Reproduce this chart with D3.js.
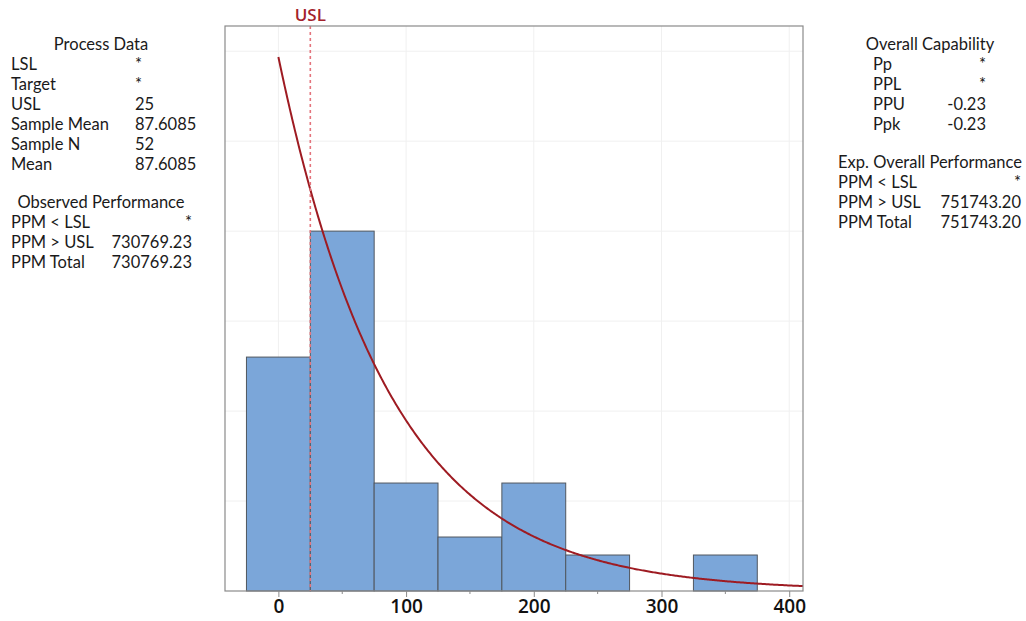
<!DOCTYPE html>
<html>
<head>
<style>
  body{
    margin: 0;
    background: white;
    font-family: 'Open Sans', sans-serif;
  }
</style>
</head>
<body>
<svg id='svgVis'></svg>
<script src="https://cdn.jsdelivr.net/npm/d3@7/dist/d3.min.js"></script>
<script>

// histogram bins (centres, width 50) and counts
var binCentres = [0, 50, 100, 150, 200, 250, 300, 350];
var binCounts = [13, 20, 6, 3, 6, 2, 0, 2];
var binWidth = 50;

var xTicks = [0, 100, 200, 300, 400];
var xMinorTicks = [50, 150, 250, 350];
var yGrid = [5, 10, 15, 20, 25, 30];

var usl = 25;
var sampleMean = 87.6085;
var sampleN = 52;

var processLabels = ["LSL", "Target", "USL", "Sample Mean", "Sample N", "Mean"];
var processValues = ["*", "*", "25", "87.6085", "52", "87.6085"];
var observedLabels = ["PPM < LSL", "PPM > USL", "PPM Total"];
var observedValues = ["*", "730769.23", "730769.23"];
var capLabels = ["Pp", "PPL", "PPU", "Ppk"];
var capValues = ["*", "*", "-0.23", "-0.23"];
var expLabels = ["PPM < LSL", "PPM > USL", "PPM Total"];
var expValues = ["*", "751743.20", "751743.20"];

var width = 1026, height = 621;

var svg = d3.select("#svgVis")
    .attr("width", width)
    .attr("height", height);

var plot = {left: 225, right: 803, top: 26, bottom: 591};

var x = d3.scaleLinear().domain([-41.8, 410.8]).range([plot.left, plot.right]);
var y = d3.scaleLinear().domain([0, 31.4]).range([plot.bottom, plot.top]);

// grid
svg.append("g").selectAll("line").data(yGrid).enter().append("line")
  .attr("x1", plot.left).attr("x2", plot.right)
  .attr("y1", function(d) { return y(d); }).attr("y2", function(d) { return y(d); })
  .style("stroke", "#f0f0f0").style("stroke-width", 1);

svg.append("g").selectAll("line").data(xTicks).enter().append("line")
  .attr("y1", plot.top).attr("y2", plot.bottom)
  .attr("x1", function(d) { return x(d); }).attr("x2", function(d) { return x(d); })
  .style("stroke", "#f0f0f0").style("stroke-width", 1);

// bars
svg.append("g").selectAll("rect")
  .data(binCentres.map(function(c, i) { return {c: c, n: binCounts[i]}; }).filter(function(d) { return d.n > 0; }))
  .enter().append("rect")
  .attr("x", function(d) { return x(d.c - binWidth / 2); })
  .attr("width", function(d) { return x(d.c + binWidth / 2) - x(d.c - binWidth / 2); })
  .attr("y", function(d) { return y(d.n); })
  .attr("height", function(d) { return y(0) - y(d.n); })
  .style("fill", "#7ba6d9")
  .style("stroke", "#50575f")
  .style("stroke-width", 1);

// fitted exponential curve
var curvePts = d3.range(0, 410.8, 1).concat([410.8]).map(function(v) {
  return [v, sampleN * binWidth / sampleMean * Math.exp(-v / sampleMean)];
});
svg.append("path")
  .datum(curvePts)
  .attr("d", d3.line().x(function(d) { return x(d[0]); }).y(function(d) { return y(d[1]); }))
  .style("fill", "none")
  .style("stroke", "#9e1b22")
  .style("stroke-width", 2);

// USL line
svg.append("line")
  .attr("x1", x(usl)).attr("x2", x(usl))
  .attr("y1", plot.top).attr("y2", plot.bottom)
  .style("stroke", "#e4737c")
  .style("stroke-width", 1.6)
  .style("stroke-dasharray", "3,3");

svg.append("text")
  .attr("x", x(usl)).attr("y", 21)
  .attr("text-anchor", "middle")
  .style("font-size", "17px")
  .style("font-weight", "600")
  .style("fill", "#a3222b")
  .text("USL");

// frame
svg.append("rect")
  .attr("x", plot.left).attr("y", plot.top)
  .attr("width", plot.right - plot.left).attr("height", plot.bottom - plot.top)
  .style("fill", "none").style("stroke", "#8a8a8a").style("stroke-width", 1.2);

// x axis
var xAxis = d3.axisBottom(x).tickValues(xTicks).tickSize(6).tickSizeOuter(0);
var gx = svg.append("g")
  .attr("transform", "translate(0," + plot.bottom + ")")
  .call(xAxis);
gx.select(".domain").remove();
gx.selectAll(".tick line").style("stroke", "#8a8a8a");
gx.selectAll("text")
  .attr("dy", "0.71em")
  .attr("y", 9)
  .style("font-family", "'Open Sans', sans-serif")
  .style("font-size", "19px")
  .style("font-weight", "600")
  .style("fill", "#111");

svg.append("g").selectAll("line").data(xMinorTicks).enter().append("line")
  .attr("x1", function(d) { return x(d); }).attr("x2", function(d) { return x(d); })
  .attr("y1", plot.bottom).attr("y2", plot.bottom + 3)
  .style("stroke", "#8a8a8a");

// side tables
function table(title, titleX, titleY, labels, values, labelX, valueX, valueAnchor, startY) {
  var g = svg.append("g")
    .style("font-family", "Lato, sans-serif")
    .style("font-size", "16.5px")
    .style("fill", "#1a1a1a");
  g.append("text").attr("x", titleX).attr("y", titleY).attr("text-anchor", "middle").text(title);
  labels.forEach(function(l, i) {
    g.append("text").attr("x", labelX).attr("y", startY + i * 20).text(l);
    g.append("text").attr("x", valueX).attr("y", startY + i * 20)
      .attr("text-anchor", valueAnchor).text(values[i]);
  });
}

table("Process Data", 101, 50, processLabels, processValues, 11, 135, "start", 69.5);
table("Observed Performance", 101, 208, observedLabels, observedValues, 11, 192, "end", 228);
table("Overall Capability", 930, 50, capLabels, capValues, 873, 986, "end", 69.5);
table("Exp. Overall Performance", 930, 168, expLabels, expValues, 838, 1021, "end", 187.5);

</script>
</body>
</html>
